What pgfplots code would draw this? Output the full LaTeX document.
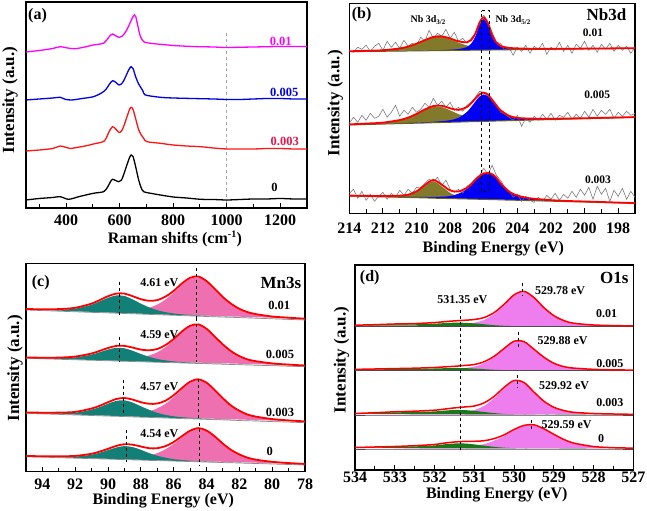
\documentclass[border=0pt]{standalone}
\usepackage{fontspec}
\setmainfont{Liberation Serif}
\usepackage{pgfplots}
\usepackage{pgfplotstable}
\pgfplotsset{compat=1.18}

\definecolor{rmag}{RGB}{255,0,255}
\definecolor{rblue}{RGB}{0,0,230}
\definecolor{rred}{RGB}{255,20,20}
\definecolor{lab3}{RGB}{235,20,70}
\definecolor{nbolive}{RGB}{130,122,42}
\definecolor{nbblue}{RGB}{0,0,245}
\definecolor{mnteal}{RGB}{18,128,118}
\definecolor{mnpink}{RGB}{238,112,176}
\definecolor{opink}{RGB}{238,125,238}
\definecolor{ogreen}{RGB}{25,120,25}

\newcommand\tk[1]{\fontsize{#1bp}{#1bp}\selectfont\bfseries}

\pgfplotsset{
  panel/.style={
    scale only axis, anchor=south west,
    axis line style={line width=1.2bp},
    tick style={line width=1bp, black},
    tick align=inside, xtick pos=left, ytick=\empty,
    major tick length=5bp, minor tick length=4bp,
    xticklabel style={anchor=base, font=\tk{16}},
    ymin=0,
  },
  env/.style={red, line width=1.8bp, smooth},
}

% one fitted spectrum: fills of the two components, baseline, fit envelope
\newcommand\nbfit[1]{%
  \addplot[draw=none, fill=nbolive, smooth] table[x=x, y expr=\thisrow{b}+\thisrow{o}] {#1} -- cycle;
  \addplot[draw=none, fill=nbblue, smooth] table[x=x, y expr=\thisrow{b}+\thisrow{u}] {#1} -- cycle;
  \addplot[nbolive!80!black, line width=1bp] table[x=x, y=b] {#1};}
\newcommand\nbenv[1]{%
  \addplot[env] table[x=x, y expr=\thisrow{b}+\thisrow{o}+\thisrow{u}] {#1};}
\newcommand\mnfit[1]{%
  \addplot[draw=none, fill=mnpink, smooth] table[x=x, y expr=\thisrow{b}+\thisrow{p}] {#1} -- cycle;
  \addplot[draw=none, fill=mnteal, smooth] table[x=x, y expr=\thisrow{b}+\thisrow{g}] {#1} -- cycle;
  \addplot[black!45, line width=0.7bp] table[x=x, y=b] {#1};
  \addplot[env] table[x=x, y expr=\thisrow{b}+\thisrow{g}+\thisrow{p}] {#1};}
\newcommand\ofit[1]{%
  \addplot[draw=none, fill=opink, smooth] table[x=x, y expr=\thisrow{b}+\thisrow{p}] {#1} -- cycle;
  \addplot[draw=none, fill=ogreen, smooth] table[x=x, y expr=\thisrow{b}+\thisrow{g}] {#1} -- cycle;
  \addplot[black!70, line width=0.9bp] table[x=x, y=b] {#1};
  \addplot[red, line width=1.5bp, smooth] table[x=x, y expr=\thisrow{b}+\thisrow{g}+\thisrow{p}] {#1};}

% ---------- (a) Raman ----------
\pgfplotstableread{
x y
250 8
300 9.5
350 10.5
378 11.3
409 8.7
450 11.5
502 14.7
540 16.3
555 21
565 26
573 28.7
585 27.5
597 26.3
607 28
617 35
627 43
637 50.5
643 53
650 51.5
660 41
671 28
680 20.5
690 16.3
720 14.5
752 13
800 11
850 10
902 8.7
950 8.5
1000 8
1050 8.5
1100 9
1150 9
1200 9.5
1250 9
1300 9
}\ramZero
\pgfplotstableread{
x y
250 57
300 58
350 59.5
378 62
400 60.5
415 59.5
450 61
480 62.5
502 64
520 65
540 66.5
550 70
560 76
573 81.3
585 79
597 75.7
607 77
617 83
627 91
637 98.5
643 100.7
650 98.5
660 89
670 79
677 74.7
690 69.5
702 66.3
752 64.7
800 63
850 62
902 61.3
950 60
1000 59
1050 59
1100 59
1150 59.5
1200 59.5
1250 59
1300 59
}\ramThree
\pgfplotstableread{
x y
250 108
300 109
350 110
378 110.7
396 108.7
421 108
460 109.5
502 111.3
534 115.3
550 119
562 124
574 127.3
586 125.5
598 123
610 125
620 130
630 136
638 140
643 141.3
650 139.5
660 131
670 124.5
677 121.3
687 117
696 113
752 110.7
800 110
870 109.5
950 109
1000 108.5
1050 108.5
1100 109
1150 109.5
1200 109.5
1250 109
1300 109
}\ramFive
\pgfplotstableread{
x y
250 156
300 157.5
350 159.5
378 161.3
405 160
434 159.3
470 161
502 163
540 164.7
552 168
563 172
574 174
586 172
599 170.7
610 172
622 176
632 181
642 187
650 191.5
655 193
660 191.5
668 182
677 172
690 166.3
720 164.5
752 163.7
800 162.5
870 161.5
950 161
1000 160.5
1100 161
1200 161.5
1300 161.5
}\ramTen

% ---------- (b) Nb3d: baseline b, Nb3d3/2 o, Nb3d5/2 u ----------
\pgfplotstableread{
x b o u
214 161.6 0.4 0.05
213 161.8 0.6 0.06
212 162.0 1.0 0.07
211 162.2 2.5 0.13
210.5 162.3 4.3 0.15
210 162.4 7.0 0.2
209.5 162.5 10.4 0.26
209 162.6 13.4 0.35
208.5 162.7 13.7 0.5
208 162.8 11.2 0.8
207.5 162.9 7.7 1.3
207 163.0 4.8 3.2
206.75 163.05 3.6 6.5
206.5 163.1 2.8 13.8
206.25 163.15 2.1 25.3
206 163.2 1.7 31
205.75 163.25 1.4 25.3
205.5 163.3 1.1 13.8
205.25 163.35 0.9 6.5
205 163.4 0.8 3.2
204.5 163.5 0.6 1.3
204 163.6 0.5 0.8
203.5 163.7 0.4 0.5
203 163.8 0.35 0.35
202 164.0 0.3 0.2
201 164.2 0.2 0.13
200 164.4 0.2 0.1
199 164.6 0.15 0.07
198 164.8 0.1 0.06
197 165.0 0.1 0.05
}\nbTen
\pgfplotstableread{
x b o u
214 88.3 0.5 0.1
213 88.8 0.7 0.2
212 89.2 1.2 0.25
211 89.7 3.2 0.35
210.5 89.9 5.4 0.4
210 90.1 8.8 0.5
209.5 90.3 12.8 0.7
209 90.6 15.7 0.9
208.5 90.8 15.4 1.3
208 91.0 11.9 2.1
207.5 91.2 8.0 4.2
207 91.5 4.9 9.9
206.75 91.6 3.8 14.6
206.5 91.7 2.9 20.1
206.25 91.8 2.2 25.0
206 91.9 1.7 27.0
205.75 92.0 1.4 25.0
205.5 92.2 1.2 20.1
205.25 92.3 1.0 14.6
205 92.4 0.85 9.9
204.5 92.6 0.7 4.2
204 92.8 0.55 2.1
203.5 93.1 0.45 1.3
203 93.3 0.4 0.9
202 93.7 0.3 0.5
201 94.2 0.25 0.35
200 94.6 0.2 0.25
199 95.1 0.15 0.2
198 95.5 0.15 0.15
197 96.0 0.1 0.1
}\nbFive
\pgfplotstableread{
x b o u
214 17.3 0.2 0.2
213 16.9 0.3 0.25
212 16.4 0.5 0.3
211 16.0 1.1 0.5
210.5 15.8 2.2 0.6
210 15.6 5.6 0.7
209.5 15.4 12.1 0.9
209 15.1 17.0 1.2
208.5 14.9 12.1 1.7
208 14.7 5.6 2.5
207.5 14.5 2.2 5.1
207 14.3 1.1 10.1
206.75 14.2 0.9 13.7
206.5 14.1 0.7 18.5
206.25 14.0 0.6 22.6
206 13.9 0.5 25.6
205.75 13.8 0.45 26.0
205.5 13.7 0.4 25.0
205.25 13.6 0.35 21.6
205 13.4 0.3 16.4
204.5 13.2 0.25 8.2
204 13.0 0.2 4.6
203.5 12.8 0.2 2.7
203 12.6 0.2 1.7
202 12.1 0.15 0.9
201 11.7 0.1 0.5
200 11.3 0.1 0.4
199 10.9 0.1 0.3
198 10.4 0.05 0.25
197 10.0 0.05 0.2
}\nbThree
% raw counts (noisy)
\pgfplotstableread{
x y
214 163
213.75 161
213.5 166
213.25 164
213 168
212.75 162
212.5 167
212.25 170
212 163
211.75 172
211.5 166
211.25 171
211 165
210.75 173
210.5 167
210.25 170
210 168
209.75 176
209.5 172
209.25 183
209 175
208.75 180
208.5 177
208.25 184
208 175
207.75 181
207.5 172
207.25 175
207 170
206.75 175
206.5 180
206.25 192
206 198
205.75 191
205.5 181
205.25 171
205 170
204.75 163
204.5 166
204.25 158
204 166
203.75 162
203.5 168
203.25 160
203 167
202.75 164
202.5 170
202.25 159
202 166
201.75 163
201.5 171
201.25 162
201 168
200.75 160
200.5 169
200.25 165
200 172
199.75 163
199.5 168
199.25 161
199 169
198.75 164
198.5 170
198.25 162
198 168
197.75 163
197.5 167
197.25 160
197 166
}\rawTen
\pgfplotstableread{
x y
214 90
213.75 96
213.5 91
213.25 98
213 93
212.75 100
212.5 95
212.25 97
212 104
211.75 96
211.5 101
211.25 108
211 97
210.75 103
210.5 99
210.25 106
210 101
209.75 104
209.5 110
209.25 106
209 115
208.75 108
208.5 112
208.25 106
208 111
207.75 103
207.5 106
207.25 102
207 108
206.75 111
206.5 116
206.25 122
206 121
205.75 120
205.5 112
205.25 109
205 101
204.75 99
204.5 96
204.25 93
204 98
203.75 87
203.5 95
203.25 91
203 97
202.75 93
202.5 99
202.25 94
202 100
201.75 93
201.5 98
201.25 96
201 101
200.75 94
200.5 99
200.25 95
200 102
199.75 96
199.5 104
199.25 97
199 103
198.75 99
198.5 104
198.25 95
198 101
197.75 97
197.5 102
197.25 98
197 100
}\rawFive
\pgfplotstableread{
x y
214 20
213.75 24
213.5 15
213.25 22
213 13
212.75 19
212.5 12
212.25 17
212 21
211.75 14
211.5 20
211.25 16
211 23
210.75 18
210.5 24
210.25 20
210 26
209.75 25
209.5 30
209.25 34
209 32
208.75 36
208.5 28
208.25 33
208 24
207.75 21
207.5 24
207.25 20
207 27
206.75 30
206.5 35
206.25 38
206 45
205.75 39
205.5 48
205.25 38
205 33
204.75 26
204.5 23
204.25 16
204 19
203.75 12
203.5 17
203.25 13
203 11
202.75 16
202.5 12
202.25 18
202 14
201.75 20
201.5 13
201.25 19
201 15
200.75 22
200.5 16
200.25 24
200 18
199.75 26
199.5 14
199.25 27
199 19
198.75 25
198.5 12
198.25 23
198 17
197.75 25
197.5 14
197.25 22
197 16
}\rawThree

% ---------- (c) Mn3s: baseline b, satellite g, main p ----------
\pgfplotstableread{
x b g p
95 161.7 0.6 0.4
94 161.1 0.8 0.5
93 160.5 1.4 0.7
92 159.9 3.2 0.8
91 159.3 7.7 1.1
90.5 159.1 11.3 1.3
90 158.8 15.1 1.6
89.5 158.5 17.7 1.9
89 158.2 17.5 2.4
88.5 157.9 14.4 3.2
88 157.6 10.5 4.4
87.5 157.3 7.0 6.6
87 157.0 4.5 10.1
86.5 156.7 2.8 15.6
86 156.4 1.8 22.6
85.5 156.1 1.3 30.8
85 155.8 1.0 37.1
84.5 155.5 0.8 38.9
84 155.2 0.7 34.7
83.5 154.9 0.6 27.3
83 154.6 0.5 19.5
82.5 154.4 0.4 13.1
82 154.1 0.4 8.4
81.5 153.8 0.3 5.5
81 153.5 0.3 3.8
80 152.9 0.2 2.1
79 152.3 0.2 1.5
78 151.7 0.2 1.1
}\mnTen
\pgfplotstableread{
x b g p
95 113.4 0.4 0.4
94 112.9 0.6 0.5
93 112.4 1.0 0.7
92 111.9 2.4 0.8
91 111.4 5.7 1.1
90.5 111.2 8.4 1.3
90 110.9 11.2 1.6
89.5 110.7 13.2 1.9
89 110.4 13.0 2.4
88.5 110.2 10.7 3.2
88 109.9 7.8 4.4
87.5 109.7 5.2 6.5
87 109.4 3.3 10.0
86.5 109.2 2.1 15.4
86 109.0 1.3 22.4
85.5 108.7 1.0 30.5
85 108.5 0.7 36.7
84.5 108.2 0.6 38.5
84 108.0 0.5 34.4
83.5 107.7 0.4 27.0
83 107.5 0.4 19.3
82.5 107.2 0.3 13.0
82 107.0 0.3 8.3
81.5 106.7 0.2 5.4
81 106.5 0.2 3.8
80 106.0 0.2 2.1
79 105.5 0.1 1.5
78 105.0 0.1 1.1
}\mnFive
\pgfplotstableread{
x b g p
95 58.4 0.5 0.4
94 57.8 0.7 0.5
93 57.3 1.1 0.7
92 56.7 2.3 0.8
91 56.2 5.9 1.1
90.5 55.9 8.8 1.3
90 55.6 12.4 1.5
89.5 55.4 15.4 1.9
89 55.1 16.3 2.3
88.5 54.8 14.3 3.0
88 54.5 10.9 4.1
87.5 54.3 7.6 6.0
87 54.0 4.8 9.4
86.5 53.7 3.1 14.2
86 53.4 2.0 21.1
85.5 53.1 1.4 29.1
85 52.9 1.0 36.1
84.5 52.6 0.8 39.0
84 52.3 0.65 36.1
83.5 52.0 0.55 29.1
83 51.8 0.5 21.1
82.5 51.5 0.4 14.2
82 51.2 0.35 9.4
81.5 50.9 0.3 6.0
81 50.7 0.3 4.1
80 50.1 0.2 2.3
79 49.6 0.2 1.5
78 49.0 0.2 1.1
}\mnThree
\pgfplotstableread{
x b g p
95 15.0 0.4 0.4
94 14.5 0.5 0.4
93 14.0 0.8 0.6
92 13.5 1.6 0.7
91 13.0 4.0 0.9
90.5 12.8 6.3 1.1
90 12.6 9.0 1.3
89.5 12.3 11.9 1.6
89 12.1 13.5 1.9
88.5 11.8 12.8 2.4
88 11.6 10.3 3.3
87.5 11.3 7.3 4.9
87 11.1 4.9 7.5
86.5 10.9 3.1 11.6
86 10.6 1.9 17.2
85.5 10.4 1.3 23.8
85 10.1 0.9 30.0
84.5 9.9 0.7 33.0
84 9.6 0.6 31.0
83.5 9.4 0.5 25.4
83 9.1 0.4 18.5
82.5 8.9 0.35 12.5
82 8.7 0.3 8.3
81.5 8.4 0.3 5.3
81 8.2 0.25 3.6
80 7.7 0.2 2.0
79 7.2 0.15 1.3
78 6.7 0.15 0.9
}\mnZero

% ---------- (d) O1s: baseline b, adsorbed O g, lattice O p ----------
\pgfplotstableread{
x b g p
534 143.3 1.2 0.3
533.5 143.3 1.6 0.4
533 143.3 2.2 0.5
532.5 143.3 2.4 0.7
532 143.3 3.0 1.1
531.75 143.3 3.6 1.4
531.5 143.3 4.0 1.8
531.25 143.3 3.9 2.5
531 143.3 3.3 3.9
530.75 143.3 2.4 6.8
530.5 143.3 1.5 12.6
530.25 143.3 0.9 21.5
530 143.3 0.6 31.2
529.75 143.3 0.4 35.0
529.5 143.3 0.3 28.9
529.25 143.3 0.2 18.9
529 143.3 0.2 10.9
528.75 143.3 0.15 6.0
528.5 143.3 0.1 3.4
528 143.3 0.1 1.6
527.5 143.3 0.1 1.0
527 143.3 0.05 0.7
}\oTen
\pgfplotstableread{
x b g p
534 99.3 1.0 0.3
533.5 99.3 1.3 0.4
533 99.3 1.6 0.5
532.5 99.3 1.8 0.7
532 99.3 2.2 1.0
531.75 99.3 2.5 1.3
531.5 99.3 2.7 1.7
531.25 99.3 2.6 2.6
531 99.3 2.1 4.1
530.75 99.3 1.5 7.5
530.5 99.3 0.9 13.5
530.25 99.3 0.6 21.6
530 99.3 0.4 29.0
529.75 99.3 0.25 28.8
529.5 99.3 0.2 21.3
529.25 99.3 0.1 13.4
529 99.3 0.1 7.4
528.75 99.3 0.1 4.0
528.5 99.3 0.1 2.5
528 99.3 0.05 1.3
527.5 99.3 0.05 0.8
527 99.3 0 0.6
}\oFive
\pgfplotstableread{
x b g p
534 55 1.2 0.3
533.5 55 1.8 0.45
533 55 2.6 0.6
532.5 55 3.0 0.8
532 55 3.6 1.2
531.75 55 4.4 1.5
531.5 55 5.0 2.1
531.25 55 4.9 3.1
531 55 4.1 4.9
530.75 55 3.0 9.2
530.5 55 1.9 16.7
530.25 55 1.1 26.5
530 55 0.75 33.7
529.75 55 0.5 32.0
529.5 55 0.4 22.6
529.25 55 0.25 13.6
529 55 0.25 7.5
528.75 55 0.2 4.3
528.5 55 0.1 2.6
528 55 0.1 1.4
527.5 55 0.1 0.9
527 55 0.05 0.6
}\oThree
\pgfplotstableread{
x b g p
534 21 1.2 0.3
533.5 21 1.6 0.4
533 21 2.0 0.5
532.5 21 2.6 0.7
532 21 3.6 0.9
531.75 21 4.7 1.2
531.5 21 5.5 1.5
531.25 21 5.5 2.1
531 21 4.6 3.1
530.75 21 3.4 4.9
530.5 21 2.1 8.3
530.25 21 1.3 12.8
530 21 0.8 18.7
529.75 21 0.55 23.0
529.5 21 0.4 23.8
529.25 21 0.3 19.9
529 21 0.3 14.4
528.75 21 0.2 9.4
528.5 21 0.15 5.8
528 21 0.15 2.3
527.5 21 0.1 1.2
527 21 0.05 0.8
}\oZero

\begin{document}
\begin{tikzpicture}[x=1bp,y=1bp]
\path[use as bounding box] (0,0) rectangle (647,511);

%% (a)
\begin{axis}[panel, at={(26bp,303bp)}, width=281bp, height=206bp,
  xmin=250, xmax=1300, ymax=206,
  xtick={400,600,800,1000,1200}, xticklabels={400,600,800,1000,1200},
  minor xtick={300,500,...,1100},
  xticklabel style={yshift=-18bp}]
\addplot[black!35, dashed, line width=1.1bp] coordinates {(1000,5) (1000,176)};
\addplot[black, line width=1.3bp, smooth] table {\ramZero};
\addplot[rred, line width=1.3bp, smooth] table {\ramThree};
\addplot[rblue, line width=1.3bp, smooth] table {\ramFive};
\addplot[rmag, line width=1.3bp, smooth] table {\ramTen};
\node[font=\tk{16}] at (axis cs:293,192) {(a)};
\node[font=\tk{12.5}, text=rmag] at (axis cs:1202,167) {0.01};
\node[font=\tk{12.5}, text=rblue] at (axis cs:1215,116) {0.005};
\node[font=\tk{12.5}, text=lab3] at (axis cs:1217,67) {0.003};
\node[font=\tk{12.5}] at (axis cs:1179,20.5) {0};
\end{axis}

%% (b)
\begin{axis}[panel, at={(349.3bp,297.7bp)}, width=285.7bp, height=210bp,
  x dir=reverse, xmin=197, xmax=214, ymax=210,
  xtick={198,200,202,204,206,208,210,212,214},
  xticklabels={198,200,202,204,206,208,210,212,214},
  minor xtick={197,199,...,213},
  xticklabel style={yshift=-20bp}]
\nbfit{\nbTen}
\nbfit{\nbFive}
\nbfit{\nbThree}
\addplot[black!55, line width=0.55bp] table {\rawTen};
\addplot[black!55, line width=0.55bp] table {\rawFive};
\addplot[black!55, line width=0.55bp] table {\rawThree};
\nbenv{\nbTen}
\nbenv{\nbFive}
\nbenv{\nbThree}
\addplot[black, dashed, line width=1bp] coordinates {(206.13,202.6) (205.68,202.6) (205.68,21.6) (206.13,21.6) (206.13,202.6)};
\node[font=\tk{16}] at (axis cs:213.27,199) {(b)};
\node[font=\tk{17}] at (axis cs:198.7,199) {Nb3d};
\node[font=\tk{10}] at (axis cs:209.3,193.3) {Nb 3d\textsubscript{3/2}};
\node[font=\tk{10}] at (axis cs:204.25,193.3) {Nb 3d\textsubscript{5/2}};
\node[font=\tk{11.5}] at (axis cs:199.5,180.8) {0.01};
\node[font=\tk{11.5}] at (axis cs:199.25,118.3) {0.005};
\node[font=\tk{11.5}] at (axis cs:199.2,33.3) {0.003};
\end{axis}

%% (c)
\begin{axis}[panel, at={(26bp,39.3bp)}, width=279bp, height=208.4bp,
  x dir=reverse, xmin=78, xmax=95, ymax=208.4,
  xtick={78,80,82,84,86,88,90,92,94},
  xticklabels={78,80,82,84,86,88,90,92,94},
  minor xtick={79,81,...,95},
  xticklabel style={yshift=-18bp}]
\mnfit{\mnTen}
\mnfit{\mnFive}
\mnfit{\mnThree}
\mnfit{\mnZero}
\addplot[black, dashed, line width=1bp] coordinates {(89.33,190) (89.33,155)};
\addplot[black, dashed, line width=1bp] coordinates {(84.6,203.4) (84.6,153.4)};
\addplot[black, dashed, line width=1bp] coordinates {(89.33,135) (89.33,110)};
\addplot[black, dashed, line width=1bp] coordinates {(84.63,153.4) (84.63,110)};
\addplot[black, dashed, line width=1bp] coordinates {(89.07,91.7) (89.07,58.4)};
\addplot[black, dashed, line width=1bp] coordinates {(84.5,92.4) (84.5,51.7)};
\addplot[black, dashed, line width=1bp] coordinates {(88.9,41.7) (88.9,10)};
\addplot[black, dashed, line width=1bp] coordinates {(84.44,49) (84.44,6.7)};
\node[font=\tk{16}] at (axis cs:94.1,189.2) {(c)};
\node[font=\tk{17}] at (axis cs:79.47,189.2) {Mn3s};
\node[font=\tk{12}] at (axis cs:86.88,189.2) {4.61 eV};
\node[font=\tk{12}] at (axis cs:86.88,137) {4.59 eV};
\node[font=\tk{12}] at (axis cs:86.88,84.7) {4.57 eV};
\node[font=\tk{12}] at (axis cs:86.88,37.9) {4.54 eV};
\node[font=\tk{12.5}] at (axis cs:79.57,165.9) {0.01};
\node[font=\tk{12.5}] at (axis cs:79.52,117.5) {0.005};
\node[font=\tk{12.5}] at (axis cs:79.52,59.7) {0.003};
\node[font=\tk{12.5}] at (axis cs:80.15,20.2) {0};
\end{axis}

%% (d)
\begin{axis}[panel, at={(355bp,41bp)}, width=278.3bp, height=205bp,
  x dir=reverse, xmin=527, xmax=534, ymax=205,
  xtick={527,528,529,530,531,532,533,534},
  xticklabels={527,528,529,530,531,532,533,534},
  minor xtick={527.5,528.5,...,533.5},
  xticklabel style={yshift=-12.7bp}]
\ofit{\oTen}
\ofit{\oFive}
\ofit{\oThree}
\ofit{\oZero}
\addplot[black, dashed, line width=1bp] coordinates {(531.35,160) (531.35,16.7)};
\addplot[black, dashed, line width=1bp] coordinates {(529.78,187.3) (529.78,175)};
\addplot[black, dashed, line width=1bp] coordinates {(529.88,138.3) (529.88,123.3)};
\addplot[black, dashed, line width=1bp] coordinates {(529.92,95) (529.92,81.7)};
\addplot[black, dashed, line width=1bp] coordinates {(529.57,50) (529.57,38.3)};
\node[font=\tk{16}] at (axis cs:533.63,192.5) {(d)};
\node[font=\tk{17}] at (axis cs:527.48,192.5) {O1s};
\node[font=\tk{12}] at (axis cs:531.30,170.8) {531.35 eV};
\node[font=\tk{12}] at (axis cs:528.84,179.2) {529.78 eV};
\node[font=\tk{12}] at (axis cs:528.78,129.5) {529.88 eV};
\node[font=\tk{12}] at (axis cs:528.74,84.8) {529.92 eV};
\node[font=\tk{12}] at (axis cs:528.68,45.5) {529.59 eV};
\node[font=\tk{12}] at (axis cs:527.67,156.2) {0.01};
\node[font=\tk{12}] at (axis cs:527.59,106.2) {0.005};
\node[font=\tk{12}] at (axis cs:527.59,67.5) {0.003};
\node[font=\tk{12}] at (axis cs:527.81,31.5) {0};
\end{axis}

%% axis titles
\node[font=\tk{16}, anchor=base] at (175,267) {Raman shifts (cm\textsuperscript{\fontsize{10bp}{10bp}\selectfont -1})};
\node[font=\tk{16}, anchor=base] at (493.3,258.7) {Binding Energy (eV)};
\node[font=\tk{16}, anchor=base] at (163.3,6) {Binding Energy (eV)};
\node[font=\tk{16}, anchor=base] at (496.7,12.7) {Binding Energy (eV)};
\node[font=\tk{17}, anchor=base, rotate=90] at (14,411) {Intensity (a.u.)};
\node[font=\tk{17}, anchor=base, rotate=90] at (339.3,407.7) {Intensity (a.u.)};
\node[font=\tk{17}, anchor=base, rotate=90] at (19,142.7) {Intensity (a.u.)};
\node[font=\tk{17}, anchor=base, rotate=90] at (345.7,151) {Intensity (a.u.)};
\end{tikzpicture}
\end{document}
